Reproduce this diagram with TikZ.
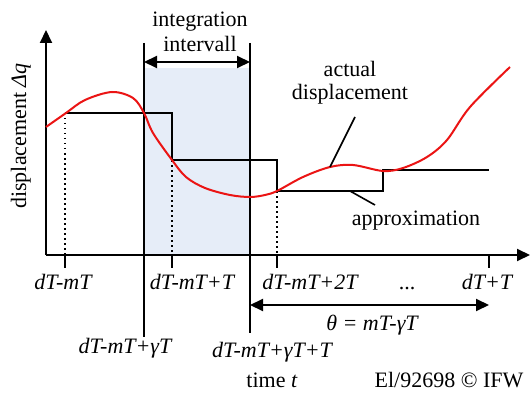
\documentclass[tikz,border=0pt]{standalone}
\usepackage{fontspec}
\setmainfont{Liberation Serif}
\usetikzlibrary{arrows.meta}
\definecolor{intblue}{RGB}{230,237,248}
\definecolor{curvered}{RGB}{235,20,20}
\tikzset{
  lbl/.style={anchor=base, inner sep=0pt, font=\fontsize{22}{24}\selectfont},
  ilbl/.style={lbl, font=\fontsize{22}{24}\selectfont\itshape},
  axis/.style={line width=2pt, -{Triangle[length=13pt,width=12pt]}},
  dimarrow/.style={line width=2pt, {Triangle[length=13pt,width=12pt]}-{Triangle[length=13pt,width=12pt]}},
  thick2/.style={line width=2pt},
  dotline/.style={line width=1.5pt, dash pattern=on 1.5pt off 3.5pt},
  tickmark/.style={line width=2pt},
}
\begin{document}
\begin{tikzpicture}[x=1pt,y=-1pt]
\useasboundingbox (0,0) rectangle (530,393);
\fill[white] (0,0) rectangle (530,393);
% shaded integration region
\fill[intblue] (144,68) rectangle (250,255);
% coordinates
\coordinate (O) at (46,255);
\coordinate (Ytop) at (46,30);
\coordinate (Xend) at (530,255);
\coordinate (L1top) at (144,43);
\coordinate (L1bot) at (144,337);
\coordinate (L2top) at (250,43);
\coordinate (L2bot) at (250,333);
\coordinate (Ia) at (144,62);
\coordinate (Ib) at (250,62);
\coordinate (Ta) at (250,305);
\coordinate (Tb) at (489,305);
% axes
\draw[axis] (O) -- (Ytop);
\draw[axis] (O) -- (Xend);
% interval lines
\draw[thick2] (L1top) -- (L1bot);
\draw[thick2] (L2top) -- (L2bot);
\draw[dimarrow] (Ia) -- (Ib);
\draw[dimarrow] (Ta) -- (Tb);
% ticks
\foreach \x in {65,172,277,489} \draw[tickmark] (\x,255) -- (\x,268);
% dotted lines
\draw[dotline] (65,113) -- (65,255);
\draw[dotline] (172,160) -- (172,255);
\draw[dotline] (277,191) -- (277,255);
% approximation steps
\draw[thick2, line join=miter] (65,113) -- (172,113) -- (172,160) -- (277,160) -- (277,191) -- (383,191) -- (383,170) -- (489,170);
% actual curve
\draw[curvered, line width=2pt] plot[smooth, tension=0.55] coordinates {
 (46,127) (66,113) (85,100) (112,92) (133,98) (144,113) (153,133) (172,160)
 (186,177) (205,188) (230,195) (250,197) (265,195) (277,191) (303,177)
 (330,167) (353,165) (383,171) (403,168) (427,157) (447,140) (470,107) (510,67)};
% leader lines
\coordinate (A1) at (355,117);
\coordinate (A2) at (330,167);
\coordinate (P1) at (350,191);
\coordinate (P2) at (375,205);
\draw[line width=1.6pt] (A1) -- (A2);
\draw[line width=1.6pt] (P1) -- (P2);
% labels
\node[lbl] (integ) at (200,27) {integration};
\node[lbl] (interv) at (200,52) {intervall};
\node[lbl] (act) at (350,77) {actual};
\node[lbl] (disp) at (350,100) {displacement};
\node[lbl] (appr) at (416,225) {approximation};
\node[ilbl] (t1) at (63,289) {dT-mT};
\node[ilbl] (t2) at (192,289) {dT-mT+T};
\node[ilbl] (t3) at (310,289) {dT-mT+2T};
\node[lbl] (dots) at (407,289) {...};
\node[ilbl] (t4) at (487,289) {dT+T};
\node[ilbl] (theta) at (372,330) {θ = mT-γT};
\node[ilbl] (g1) at (125,353) {dT-mT+γT};
\node[ilbl] (g2) at (272,357) {dT-mT+γT+T};
\node[lbl] (time) at (272,387) {time \textit{t}};
\node[lbl] (copy) at (449,387) {El/92698 © IFW};
\node[lbl, rotate=90, anchor=base] (ylab) at (26,136) {displacement \textit{Δq}};
\end{tikzpicture}
\end{document}
